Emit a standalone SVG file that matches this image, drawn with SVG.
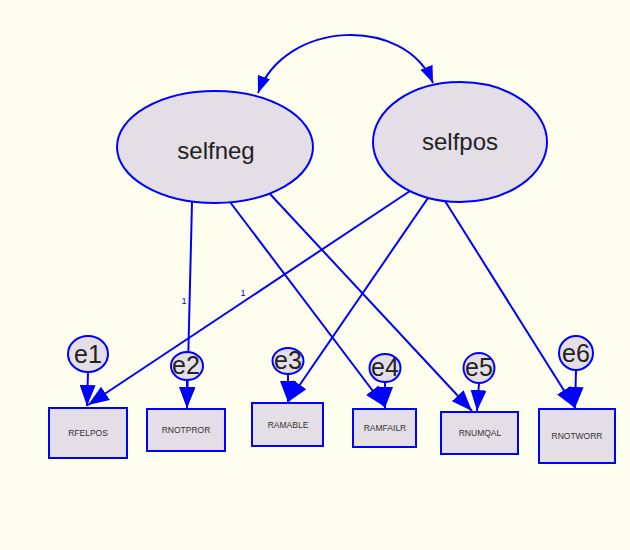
<svg xmlns="http://www.w3.org/2000/svg" width="630" height="550" viewBox="0 0 630 550">
<defs>
<marker id="ah" markerUnits="userSpaceOnUse" markerWidth="22" markerHeight="16" refX="21" refY="8" orient="auto-start-reverse">
<path d="M0,0 L21,8 L0,16 z" fill="#0000FF"/>
</marker>
<marker id="ahs" markerUnits="userSpaceOnUse" markerWidth="18" markerHeight="13" refX="17" refY="6.5" orient="auto-start-reverse">
<path d="M0,0 L17,6.5 L0,13 z" fill="#0000FF"/>
</marker>
</defs>
<style>
.lat{fill:#E4DEE6;stroke:#0000FF;stroke-width:2}
.obs{fill:#E4DEE6;stroke:#0000FF;stroke-width:2}
.err{fill:#E4DEE6;stroke:#0000FF;stroke-width:2}
.edge{fill:none;stroke:#0000FF;stroke-width:2;marker-end:url(#ah)}
.big{font-family:"Liberation Sans",Arial,sans-serif;font-size:24px;fill:#222;text-anchor:middle}
.etxt{font-family:"Liberation Sans",Arial,sans-serif;font-size:25px;fill:#222;text-anchor:middle}
.small{font-family:"Liberation Sans",Arial,sans-serif;font-size:8.5px;fill:#333;text-anchor:middle}
.lbl{font-family:"Liberation Sans",Arial,sans-serif;font-size:9px;fill:#0000FF;text-anchor:middle}
</style>
<rect width="630" height="550" fill="#FEFEEE"/>
<g id="connectors">
<path d="M258,93 C285,20 405,15 433,83" style="fill:none;stroke:#0000FF;stroke-width:2;marker-start:url(#ahs);marker-end:url(#ahs)"/>
<path class="edge" d="M192,202 L187,408"/>
<path class="edge" d="M230,202 L385,407"/>
<path class="edge" d="M270,194 L472,411"/>
<path class="edge" d="M410,191 L88,405"/>
<path class="edge" d="M428,198 L288,402"/>
<path class="edge" d="M445,201 L575,408"/>
<path class="edge" d="M88,372 L87,406"/>
<path class="edge" d="M187,380 L187,408"/>
<path class="edge" d="M288,374 L288,402"/>
<path class="edge" d="M385,382 L385,408"/>
<path class="edge" d="M479,383 L477,411"/>
<path class="edge" d="M576,370 L575,408"/>
<text class="lbl" x="184" y="304">1</text>
<text class="lbl" x="243" y="296">1</text>
</g>
<g id="selfneg"><ellipse class="lat" cx="215" cy="147" rx="98" ry="56"/><text class="big" x="216" y="159">selfneg</text></g>
<g id="selfpos"><ellipse class="lat" cx="460" cy="142" rx="87" ry="60"/><text class="big" x="460" y="150">selfpos</text></g>
<g id="RFELPOS"><rect class="obs" x="49" y="408" width="78" height="50"/><text class="small" x="88" y="436">RFELPOS</text></g>
<g id="RNOTPROR"><rect class="obs" x="147" y="409" width="78" height="42"/><text class="small" x="186" y="433">RNOTPROR</text></g>
<g id="RAMABLE"><rect class="obs" x="252" y="403" width="71" height="43"/><text class="small" x="288" y="428">RAMABLE</text></g>
<g id="RAMFAILR"><rect class="obs" x="353" y="409" width="63" height="38"/><text class="small" x="385" y="431">RAMFAILR</text></g>
<g id="RNUMQAL"><rect class="obs" x="441" y="412" width="77" height="42"/><text class="small" x="480" y="436">RNUMQAL</text></g>
<g id="RNOTWORR"><rect class="obs" x="539" y="409" width="76" height="54"/><text class="small" x="577" y="439">RNOTWORR</text></g>
<g id="e1"><ellipse class="err" cx="88" cy="354" rx="20" ry="18"/><text class="etxt" x="88" y="363">e1</text></g>
<g id="e2"><ellipse class="err" cx="187" cy="366" rx="16" ry="14"/><text class="etxt" x="186" y="374">e2</text></g>
<g id="e3"><ellipse class="err" cx="288" cy="361" rx="15.5" ry="13"/><text class="etxt" x="288" y="369">e3</text></g>
<g id="e4"><ellipse class="err" cx="385" cy="368" rx="15.5" ry="14"/><text class="etxt" x="385" y="376">e4</text></g>
<g id="e5"><ellipse class="err" cx="479" cy="368" rx="15.5" ry="15"/><text class="etxt" x="479" y="376">e5</text></g>
<g id="e6"><ellipse class="err" cx="576" cy="353" rx="17" ry="17"/><text class="etxt" x="576" y="362">e6</text></g>
</svg>
